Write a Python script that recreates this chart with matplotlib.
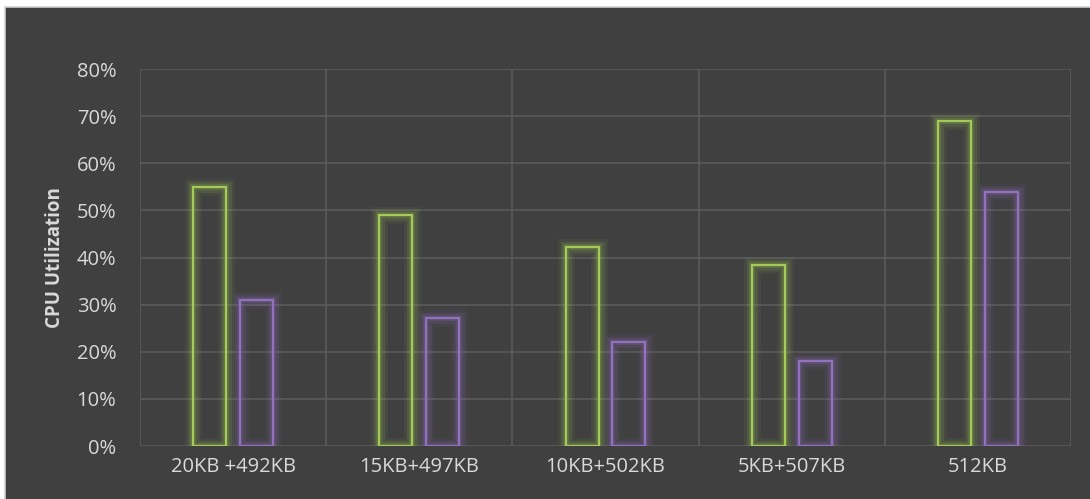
import numpy as np
import matplotlib.pyplot as plt
import matplotlib.patheffects as pe
from matplotlib.patches import Rectangle

# Data
categories = ['20KB +492KB', '15KB+497KB', '10KB+502KB', '5KB+507KB', '512KB']
series_green = [55, 49, 42.2, 38.4, 69]
series_purple = [31, 27.2, 22, 18, 54]

plt.rcParams['font.family'] = ['Open Sans', 'DejaVu Sans']

bg = '#404040'
green = '#a2cc56'
purple = '#9370c0'

fig = plt.figure(figsize=(10.9, 4.99), dpi=100, facecolor='white')
# dark chart area with light border
fig.patches.append(Rectangle((0.0046, -0.01), 1.0, 0.996, transform=fig.transFigure,
                             facecolor=bg, edgecolor='#d0d0d0', linewidth=1.2, zorder=-10))

ax = fig.add_axes([0.1284, 0.1062, 0.8542, 0.7555])
ax.set_facecolor(bg)

x = np.arange(len(categories))
w = 0.177
off = 0.126


def glow_bars(xs, vals, color):
    bars = ax.bar(xs, vals, width=w, facecolor='none', edgecolor=color, linewidth=1.6, zorder=3)
    for b in bars:
        b.set_path_effects([
            pe.Stroke(linewidth=12, foreground=color, alpha=0.07),
            pe.Stroke(linewidth=8, foreground=color, alpha=0.12),
            pe.Stroke(linewidth=4.5, foreground=color, alpha=0.18),
            pe.Normal(),
        ])
    return bars


glow_bars(x - off, series_green, green)
glow_bars(x + off, series_purple, purple)

ax.set_xlim(-0.5, len(categories) - 0.5)
ax.set_ylim(0, 80)
ax.set_yticks(np.arange(0, 81, 10))
ax.set_yticklabels([f'{v}%' for v in range(0, 81, 10)])
ax.set_xticks(x)
ax.set_xticklabels(categories)

# gridlines: horizontal at ticks, vertical at category boundaries
for yv in range(0, 81, 10):
    ax.axhline(yv, color='#5c5c5c', linewidth=1.1, zorder=1)
for xv in np.arange(-0.5, len(categories), 1.0):
    ax.axvline(xv, color='#5c5c5c', linewidth=1.1, zorder=1)

for s in ax.spines.values():
    s.set_visible(False)
ax.tick_params(axis='both', length=0, colors='#d9d9d9', labelsize=14.5)
ax.tick_params(axis='y', pad=17)
ax.tick_params(axis='x', pad=8)

ax.set_ylabel('CPU Utilization', fontsize=13.5, fontweight='bold', color='#d9d9d9', labelpad=8)

plt.savefig('out.png', dpi=100, facecolor='white')
